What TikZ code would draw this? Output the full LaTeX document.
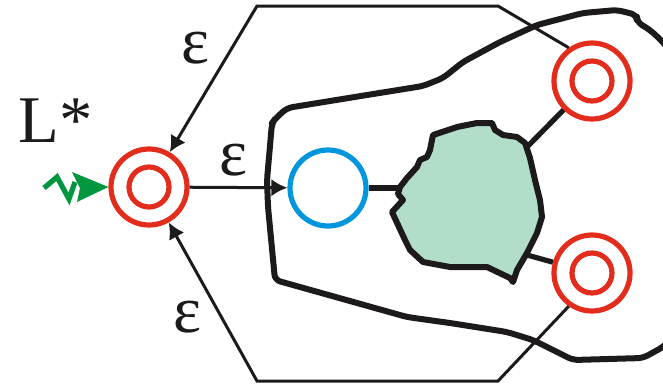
\documentclass[tikz,border=0pt]{standalone}
\usepackage{fontspec}
\setmainfont{Liberation Serif}
\usepackage{tikz}
\usetikzlibrary{arrows.meta}
\tikzset{>={Latex[length=12pt,width=13pt]}}
\definecolor{ringred}{HTML}{E22D1D}
\definecolor{ringblue}{HTML}{0096DD}
\definecolor{arrowgreen}{HTML}{00963F}
\definecolor{blobfill}{HTML}{B2DDC8}
\definecolor{inkblack}{HTML}{1C1A1A}
\tikzset{
  ring/.style={circle, draw=ringred, line width=3.9pt, minimum size=57pt, inner sep=0pt,
    path picture={\draw[ringred, line width=3.9pt] (path picture bounding box.center) circle (15pt);}},
  ball/.style={circle, draw=ringblue, line width=3.9pt, minimum size=57pt, inner sep=0pt},
  eps/.style={font=\fontsize{50}{52}\selectfont, inner sep=0pt, text=inkblack},
  thinline/.style={inkblack, line width=2.25pt},
  thickline/.style={inkblack, line width=3.9pt, line join=round},
  regionline/.style={inkblack, line width=4.5pt, line join=round},
}

\begin{document}
\begin{tikzpicture}[x=0.75pt, y=-0.75pt]
            \clip (0,0) rectangle (663,383);
            \draw[regionline, rounded corners=4pt] (287,108) -- (367,95) -- (423,86) -- (443,78) -- (463,62) -- (500,42) -- (537,25) -- (583,13) -- (617,10) -- (637,15) -- (637,22) -- (650,30) -- (663,42) -- (690,80) -- (700,200) -- (690,320) -- (663,347) -- (643,358) -- (573,360) -- (533,340) -- (507,332) -- (450,323) -- (407,317) -- (275,280) -- (268,207) -- (267,180) -- (272,123) -- (275,119) -- cycle;
            \draw[regionline, fill=blobfill] (400,187) -- (407,178) -- (417,167) -- (420,160) -- (427,157) -- (430,150) -- (433,135) -- (457,127) -- (477,123) -- (492,123) -- (495,130) -- (503,135) -- (517,137) -- (525,143) -- (530,158) -- (535,180) -- (540,200) -- (542,217) -- (537,233) -- (527,253) -- (517,270) -- (513,282) -- (510,278) -- (487,267) -- (450,267) -- (423,262) -- (410,250) -- (405,240) -- (392,212) -- (403,200) -- (398,194) -- cycle;
            \node[ring] (start) at (149,187) {};
            \node[ball] (mid) at (328,188) {};
            \node[ring] (rtop) at (592,81) {};
            \node[ring] (rbot) at (592,273) {};
            \coordinate (cin) at (399,188);
            \coordinate (ctop) at (527,147);
            \coordinate (cbot) at (527,255);
            \coordinate (tr) at (498,6);
            \coordinate (tl) at (257,6);
            \coordinate (br) at (498,381);
            \coordinate (bl) at (257,381);
            \draw[thickline] (mid) -- (cin);
            \draw[thickline] (ctop) -- (rtop);
            \draw[thickline] (cbot) -- (rbot);
            \draw[thinline, ->] (rtop.125) -- (tr) -- (tl) -- (start);
            \draw[thinline, ->] (rbot.235) -- (br) -- (bl) -- (start);
            \draw[thinline, ->] (start) -- (mid);
            \node[eps] (e1) at (195,48) {ε};
            \node[eps] (e2) at (233,160) {ε};
            \node[eps] (e3) at (187,317) {ε};
            \node[eps, anchor=base west] (lstar) at (18,142) {L*};
            \draw[arrowgreen, line width=3.9pt] (44,188) -- (57,177) -- (69,199) -- (75,182);
            \fill[arrowgreen] (72,172) -- (start.west) -- (77,202) -- (80,188) -- cycle;
        \end{tikzpicture}
\end{document}
